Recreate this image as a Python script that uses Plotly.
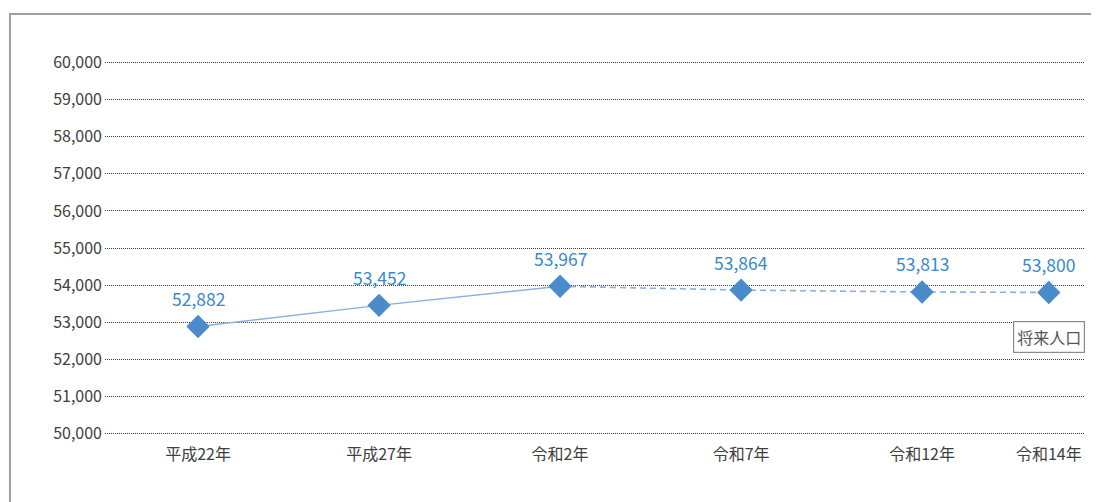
import plotly.graph_objects as go

categories = ["平成22年", "平成27年", "令和2年", "令和7年", "令和12年", "令和14年"]
population = [52882, 53452, 53967, 53864, 53813, 53800]
slot_positions = [0, 1, 2, 3, 4, 4.7]   # category slots on the axis (last one compressed as in the source)
actual_count = 3                         # first three values are actual, the rest projected
y_ticks = list(range(50000, 60001, 1000))
projection_label = "将来人口"

FONT = "Noto Sans CJK JP, Noto Sans, sans-serif"
LINE_C = "#8DB0DC"
MARK_C = "#4A8CCB"
LABEL_C = "#3A89C9"

fig = go.Figure()
fig.add_trace(go.Scatter(
    x=slot_positions[:actual_count], y=population[:actual_count],
    mode="lines", line=dict(color=LINE_C, width=1.5), hoverinfo="skip", showlegend=False))
fig.add_trace(go.Scatter(
    x=slot_positions[actual_count - 1:], y=population[actual_count - 1:],
    mode="lines", line=dict(color=LINE_C, width=1.6, dash="6px,4px"), hoverinfo="skip", showlegend=False))
fig.add_trace(go.Scatter(
    x=slot_positions, y=population, mode="markers",
    marker=dict(symbol="diamond", size=18, color=MARK_C), showlegend=False))

for xp, v in zip(slot_positions, population):
    fig.add_annotation(x=xp, y=v, text=f"{v:,}", showarrow=False, yshift=28,
                       font=dict(family=FONT, size=17.5, color=LABEL_C))

fig.add_annotation(
    x=slot_positions[-1], y=population[-1], text=projection_label, showarrow=False,
    yshift=-45, font=dict(family=FONT, size=16, color="#555555"),
    bordercolor="#8a8a8a", borderwidth=1.2, borderpad=3, bgcolor="white")

fig.add_shape(type="rect", xref="paper", yref="paper", x0=-0.097, x1=1.2, y0=-0.5, y1=1.119,
              line=dict(color="#a0a0a0", width=2), layer="below")

fig.update_layout(
    width=1099, height=502, paper_bgcolor="white", plot_bgcolor="white",
    margin=dict(l=97, r=22, t=51, b=73),
    font=dict(family=FONT, size=16, color="#404040"),
    xaxis=dict(range=[-0.514, 4.9], tickmode="array", tickvals=slot_positions, ticktext=categories,
               showgrid=False, zeroline=False, showline=False, ticks="", tickfont=dict(size=16, color="#404040"),
               ticklabelstandoff=6),
    yaxis=dict(range=[49900, 60100], tickmode="array", tickvals=y_ticks,
               ticktext=[f"{v:,}" for v in y_ticks], showgrid=True, gridcolor="#3a3a3a", gridwidth=1,
               griddash="1px,1px", zeroline=False, showline=False, ticks="", ticklabelstandoff=2,
               tickfont=dict(size=16, color="#404040")),
)
fig.write_html("out.html")
